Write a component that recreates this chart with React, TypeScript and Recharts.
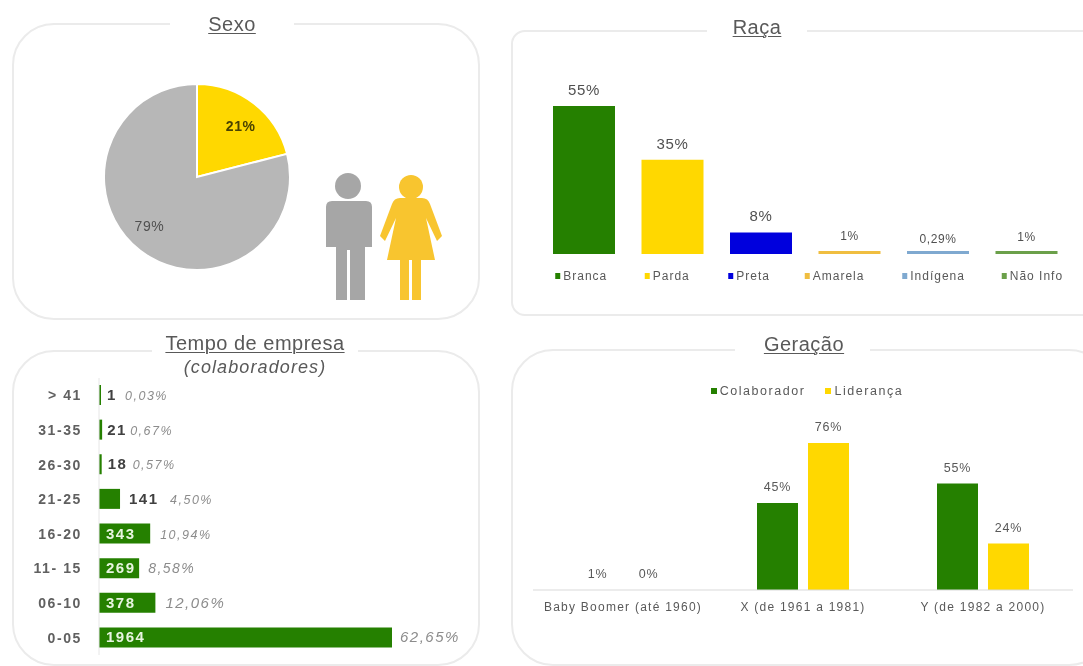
import { BarChart, Bar, XAxis, YAxis, PieChart, Pie, Cell, LabelList, Legend } from "recharts";

const GREEN = "#258000";
const YELLOW = "#FFD800";
const FONT = "'Liberation Sans', Arial, sans-serif";

const sexoNames = ["Feminino", "Masculino"];
const sexoValues = [21, 79];
const sexoColors = [YELLOW, "#B7B7B7"];
const sexoNudge = [[2, 3], [-6, -5]];

const racaNames = ["Branca", "Parda", "Preta", "Amarela", "Indígena", "Não Info"];
const racaValues = [55, 35, 8, 1, 0.29, 1];
const racaLabels = ["55%", "35%", "8%", "1%", "0,29%", "1%"];
const racaColors = [GREEN, YELLOW, "#0000DD", "#F0BE40", "#7FA9D0", "#6BA04A"];
const racaLegendShift = [-29, -28, -33, -45, -36, -25];
const racaLabelSize = [15, 15, 15, 12, 12, 12];
const racaLabelLift = [11, 11, 11, 11, 8, 10];

const tempoNames = ["> 41", "31-35", "26-30", "21-25", "16-20", "11- 15", "06-10", "0-05"];
const tempoValues = [1, 21, 18, 141, 343, 269, 378, 1964];
const tempoPct = ["0,03%", "0,67%", "0,57%", "4,50%", "10,94%", "8,58%", "12,06%", "62,65%"];
const tempoPctGap = [24, 28, 31, 50, 10, 9, 10, 8];
const tempoPctSize = [12.5, 12.5, 12.5, 12.5, 12.5, 14, 15, 15];
const tempoValueGap = [6, 5, 6, 9, 0, 0, 0, 0];

const geracaoNames = ["Baby Boomer (até 1960)", "X (de 1961 a 1981)", "Y (de 1982 a 2000)"];
const colaborador = [0.01, 45, 55];
const lideranca = [0.01, 76, 24];
const colaboradorLabels = ["1%", "45%", "55%"];
const liderancaLabels = ["0%", "76%", "24%"];

const sexoData = sexoNames.map((name, i) => ({ name, value: sexoValues[i] }));
const racaData = racaNames.map((name, i) => ({ name, value: racaValues[i] }));
const tempoData = tempoNames.map((name, i) => ({ name, value: tempoValues[i] }));
const geracaoData = geracaoNames.map((name, i) => ({
  name,
  Colaborador: colaborador[i],
  "Liderança": lideranca[i],
}));

function Panel({ left, top, width, height, radius, gapLeft, gapWidth }: any) {
  return (
    <>
      <div
        style={{
          position: "absolute",
          left,
          top,
          width,
          height,
          boxSizing: "border-box",
          border: "2px solid #EBEBEB",
          borderRadius: radius,
        }}
      />
      <div style={{ position: "absolute", left: gapLeft, top: top - 3, width: gapWidth, height: 8, background: "#fff" }} />
    </>
  );
}

function Title({ text, center, top }: any) {
  return (
    <div
      style={{
        position: "absolute",
        left: center - 150,
        width: 300,
        top,
        textAlign: "center",
        fontSize: 20,
        lineHeight: "20px",
        letterSpacing: 0.5,
        color: "#595959",
        textDecoration: "underline",
        textUnderlineOffset: 2,
        textDecorationThickness: 1,
      }}
    >
      {text}
    </div>
  );
}

function People() {
  return (
    <svg width={140} height={140} viewBox="320 170 140 140" style={{ position: "absolute", left: 320, top: 170 }}>
      <circle cx={348} cy={186} r={13} fill="#A6A6A6" />
      <path
        d="M332 201 L366 201 Q372 201 372 207 L372 247 L365 247 L365 300 L350 300 L350 250 L347 250 L347 300 L336 300 L336 247 L326 247 L326 207 Q326 201 332 201 Z"
        fill="#A6A6A6"
      />
      <circle cx={411} cy={187} r={12} fill="#F8C52F" />
      <path
        d="M400 198 L422 198 Q428 198 430 204 L442 236 L437 241 L426 218 L435 260 L421 260 L421 300 L412 300 L412 260 L409 260 L409 300 L400 300 L400 260 L387 260 L396 218 L385 241 L380 236 L392 204 Q394 198 400 198 Z"
        fill="#F8C52F"
      />
    </svg>
  );
}

const RAD = Math.PI / 180;

function SexoLabel({ cx, cy, midAngle, outerRadius, index }: any) {
  const r = outerRadius * 0.73;
  return (
    <text
      x={cx + r * Math.cos(-midAngle * RAD) + sexoNudge[index][0]}
      y={cy + r * Math.sin(-midAngle * RAD) + sexoNudge[index][1]}
      textAnchor="middle"
      dominantBaseline="central"
      fontSize={14}
      fontWeight={index === 0 ? 700 : 400}
      letterSpacing={0.5}
      fill={index === 0 ? "#4A4200" : "#505050"}
      fontFamily={FONT}
    >
      {sexoValues[index] + "%"}
    </text>
  );
}

function RacaTick({ x, y, payload, index }: any) {
  const left = x + racaLegendShift[index];
  return (
    <g>
      <rect x={left} y={y + 11} width={5} height={6} fill={racaColors[index]} />
      <text x={left + 8} y={y + 18} fontSize={12} letterSpacing={1} fill="#595959" fontFamily={FONT}>
        {payload.value}
      </text>
    </g>
  );
}

function RacaLabel({ x, y, width, index }: any) {
  return (
    <text
      x={x + width / 2}
      y={y - racaLabelLift[index]}
      textAnchor="middle"
      fontSize={racaLabelSize[index]}
      letterSpacing={0.6}
      fill="#505050"
      fontFamily={FONT}
    >
      {racaLabels[index]}
    </text>
  );
}

function TempoLabel({ x, y, width, height, index }: any) {
  const inside = width > 30;
  const mid = y + height / 2;
  const end = x + width;
  return (
    <g fontFamily={FONT}>
      <text
        x={inside ? x + 7 : end + tempoValueGap[index]}
        y={mid + 5}
        fontSize={15}
        fontWeight={700}
        letterSpacing={1.5}
        fill={inside ? "#E8F5E0" : "#404040"}
      >
        {tempoValues[index]}
      </text>
      <text
        x={end + tempoPctGap[index]}
        y={mid + 5}
        fontSize={tempoPctSize[index]}
        fontStyle="italic"
        letterSpacing={1.5}
        fill="#8C8C8C"
      >
        {tempoPct[index]}
      </text>
    </g>
  );
}

function GeracaoLabel(labels: string[]) {
  return ({ x, y, width, index }: any) => (
    <text
      x={x + width / 2}
      y={y - 12}
      textAnchor="middle"
      fontSize={12.5}
      letterSpacing={0.8}
      fill="#595959"
      fontFamily={FONT}
    >
      {labels[index]}
    </text>
  );
}

function GeracaoLegend({ payload }: any) {
  return (
    <div style={{ display: "flex", justifyContent: "center", gap: 20, fontSize: 12.5, letterSpacing: 1.55, color: "#595959", height: 20, alignItems: "center" }}>
      {(payload || []).map((p: any) => (
        <span key={p.value} style={{ display: "flex", alignItems: "center", gap: 3 }}>
          <span style={{ width: 6, height: 6, background: p.color, display: "inline-block" }} />
          {p.value}
        </span>
      ))}
    </div>
  );
}

export default function App() {
  return (
    <div
      style={{
        position: "absolute",
        left: 0,
        top: 0,
        width: 1083,
        height: 666,
        overflow: "hidden",
        background: "#fff",
        fontFamily: FONT,
        filter: "blur(0.7px)",
      }}
    >
      <Panel left={12} top={23} width={468} height={297} radius={42} gapLeft={170} gapWidth={124} />
      <Title text="Sexo" center={232} top={14} />
      <div style={{ position: "absolute", left: 85, top: 65 }}>
        <PieChart width={214} height={214}>
          <Pie
            data={sexoData}
            dataKey="value"
            cx={107}
            cy={107}
            outerRadius={93}
            startAngle={90}
            endAngle={-270}
            stroke="#fff"
            strokeWidth={2}
            label={SexoLabel}
            labelLine={false}
            isAnimationActive={false}
          >
            {sexoData.map((d, i) => (
              <Cell key={d.name} fill={sexoColors[i]} />
            ))}
          </Pie>
        </PieChart>
      </div>
      <People />

      <Panel left={511} top={30} width={600} height={286} radius={14} gapLeft={707} gapWidth={100} />
      <Title text="Raça" center={757} top={17} />
      <div style={{ position: "absolute", left: 540, top: 60 }}>
        <BarChart width={531} height={240} data={racaData} margin={{ top: 46, right: 0, bottom: 0, left: 0 }}>
          <XAxis dataKey="name" height={46} axisLine={false} tickLine={false} interval={0} tick={RacaTick} />
          <YAxis hide domain={[0, 55]} />
          <Bar dataKey="value" barSize={62} minPointSize={3} isAnimationActive={false}>
            {racaData.map((d, i) => (
              <Cell key={d.name} fill={racaColors[i]} />
            ))}
            <LabelList dataKey="value" content={RacaLabel} />
          </Bar>
        </BarChart>
      </div>

      <Panel left={12} top={350} width={468} height={316} radius={42} gapLeft={152} gapWidth={206} />
      <Title text="Tempo de empresa" center={255} top={333} />
      <div
        style={{
          position: "absolute",
          left: 105,
          width: 300,
          top: 357,
          textAlign: "center",
          fontSize: 18,
          lineHeight: "20px",
          fontStyle: "italic",
          letterSpacing: 1.1,
          color: "#595959",
        }}
      >
        (colaboradores)
      </div>
      <div style={{ position: "absolute", left: 0, top: 378 }}>
        <BarChart
          width={480}
          height={277}
          layout="vertical"
          data={tempoData}
          margin={{ top: 0, right: 88, bottom: 0, left: 0 }}
        >
          <XAxis type="number" hide domain={[0, 1964]} />
          <YAxis
            type="category"
            dataKey="name"
            width={99}
            interval={0}
            axisLine={{ stroke: "#E6E6E6" }}
            tickLine={false}
            tickMargin={11}
            tick={{ fontSize: 14, fontWeight: 700, fill: "#606060", letterSpacing: 1.6, fontFamily: FONT }}
          />
          <Bar dataKey="value" barSize={20} fill={GREEN} minPointSize={2} isAnimationActive={false}>
            <LabelList dataKey="value" content={TempoLabel} />
          </Bar>
        </BarChart>
      </div>

      <Panel left={511} top={349} width={600} height={317} radius={42} gapLeft={735} gapWidth={135} />
      <Title text="Geração" center={804} top={334} />
      <div style={{ position: "absolute", left: 533, top: 380 }}>
        <BarChart width={540} height={260} data={geracaoData} margin={{ top: 43, right: 0, bottom: 0, left: 0 }} barGap={10}>
          <XAxis
            dataKey="name"
            height={50}
            interval={0}
            axisLine={{ stroke: "#D9D9D9" }}
            tickLine={false}
            tickMargin={6}
            tick={{ fontSize: 12, fill: "#595959", letterSpacing: 1.25, fontFamily: FONT }}
          />
          <YAxis hide domain={[0, 76]} />
          <Legend verticalAlign="top" content={GeracaoLegend} wrapperStyle={{ top: 1, left: 4 }} />
          <Bar dataKey="Colaborador" barSize={41} fill={GREEN} isAnimationActive={false}>
            <LabelList dataKey="Colaborador" content={GeracaoLabel(colaboradorLabels)} />
          </Bar>
          <Bar dataKey="Liderança" barSize={41} fill={YELLOW} isAnimationActive={false}>
            <LabelList dataKey="Liderança" content={GeracaoLabel(liderancaLabels)} />
          </Bar>
        </BarChart>
      </div>
    </div>
  );
}
